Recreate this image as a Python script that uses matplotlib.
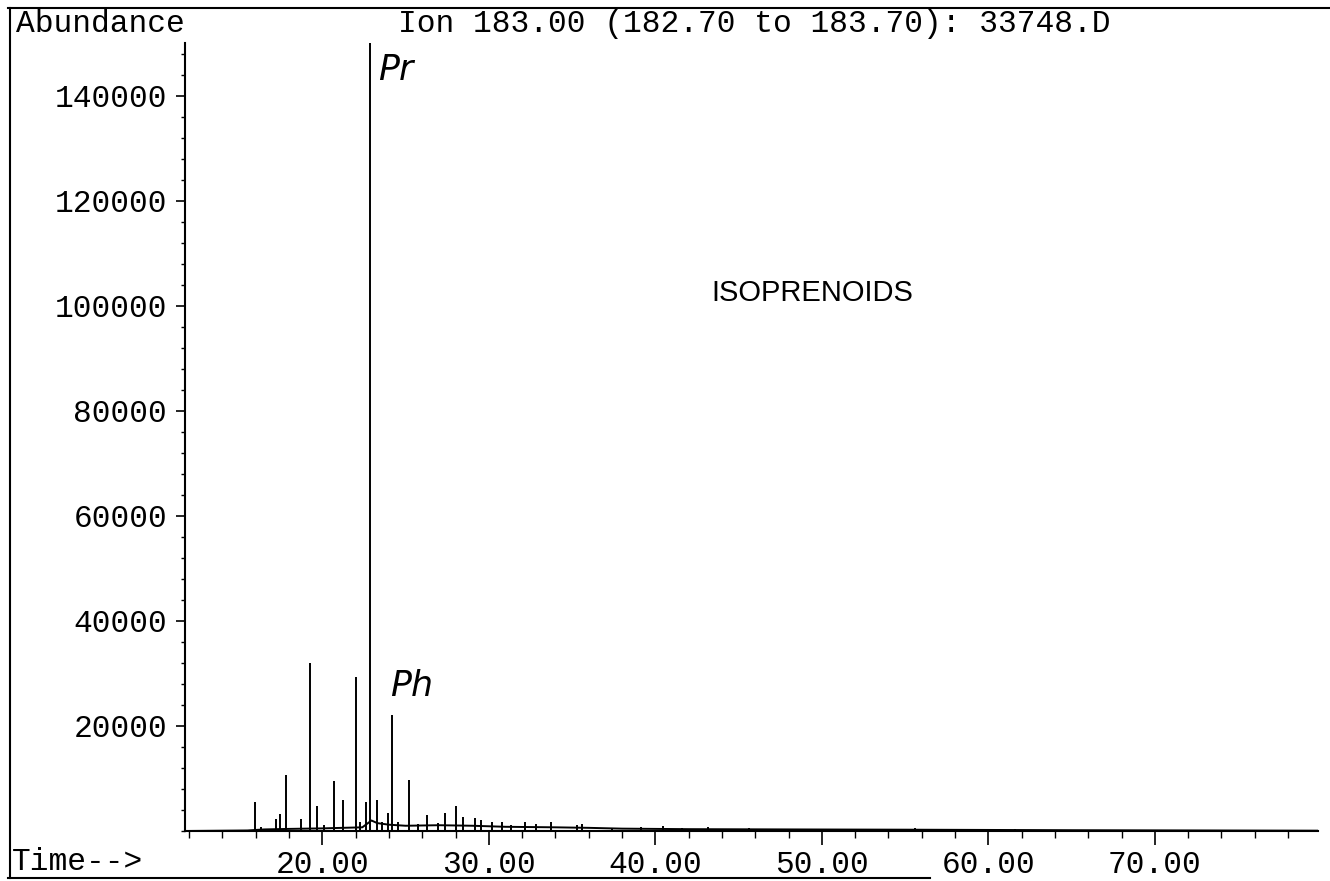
import numpy as np
import matplotlib.pyplot as plt
from matplotlib.lines import Line2D
from matplotlib.ticker import MultipleLocator, FormatStrFormatter

# peak apex: retention time (min) and abundance
peak_t = [15.98, 16.30, 17.24, 17.47, 17.80, 18.69, 19.23, 19.70, 20.12, 20.70,
          21.21, 22.00, 22.26, 22.62, 22.87, 23.27, 23.60, 23.96, 24.18, 24.56,
          25.21, 25.75, 26.29, 26.94, 27.38, 28.01, 28.43, 29.17, 29.52, 30.20,
          30.81, 31.36, 32.17, 32.83, 33.74, 35.29, 35.62, 37.37, 39.13, 40.46,
          41.60, 43.15, 45.64, 52.86, 55.60, 61.60]
peak_h = [5600, 800, 2300, 3200, 10600, 2300, 32000, 4700, 1100, 9500,
          5900, 29400, 1800, 5600, 152000, 5900, 1800, 3400, 22000, 1800,
          9800, 1400, 3000, 1500, 3500, 4700, 2600, 2500, 2100, 1650,
          1650, 1150, 1700, 1250, 1750, 1150, 1300, 650, 800, 1000,
          500, 700, 650, 450, 550, 300]

# slow baseline drift under the peaks
base_t = [11.72, 15.5, 16.5, 18.0, 20.0, 22.4, 22.95, 23.3, 24.0, 25.0, 27.0,
          29.0, 31.0, 34.0, 36.0, 38.0, 42.0, 48.0, 55.0, 65.0, 79.8]
base_y = [0, 100, 300, 400, 500, 700, 2000, 1500, 1200, 1000, 1100,
          1000, 800, 700, 600, 450, 350, 300, 250, 150, 60]

x_ticks = [20, 30, 40, 50, 60, 70]
y_ticks = [20000, 40000, 60000, 80000, 100000, 120000, 140000]

title = "Ion 183.00 (182.70 to 183.70): 33748.D"

mono = "Liberation Mono"
fs = 22.5

fig = plt.figure(figsize=(13.3, 8.81), dpi=100)
ax = fig.add_axes([184.5/1330, 1 - 831/881, (1318 - 184.5)/1330, (831 - 43)/881])

ax.plot(base_t, base_y, color="black", lw=1.4)
ax.vlines(peak_t, 0, peak_h, color="black", lw=1.4)

ax.set_xlim(11.72, 79.8)
ax.set_ylim(0, 150000)

for s in ["top", "right"]:
    ax.spines[s].set_visible(False)
for s in ["left", "bottom"]:
    ax.spines[s].set_linewidth(1.5)

ax.set_xticks(x_ticks)
ax.xaxis.set_minor_locator(MultipleLocator(2))
ax.xaxis.set_major_formatter(FormatStrFormatter("%.2f"))
ax.set_yticks(y_ticks)
ax.yaxis.set_minor_locator(MultipleLocator(4000))

ax.tick_params(axis="x", which="major", length=10, width=1.2, pad=4)
ax.tick_params(axis="x", which="minor", length=5, width=1.0)
ax.tick_params(axis="y", which="major", length=6.5, width=1.2, pad=6)
ax.tick_params(axis="y", which="minor", length=3, width=1.0)
for lab in ax.get_xticklabels() + ax.get_yticklabels():
    lab.set_fontfamily(mono)
    lab.set_fontsize(fs)

fig.text(16/1330, 1 - 32/881, "Abundance", fontfamily=mono, fontsize=fs, va="baseline")
fig.text(398/1330, 1 - 32/881, title, fontfamily=mono, fontsize=fs, va="baseline")
fig.text(12/1330, 1 - 870/881, "Time-->", fontfamily=mono, fontsize=fs, va="baseline")
fig.text(711/1330, 1 - 293/881, "ISOPRENOIDS", fontfamily="Liberation Sans",
         fontsize=21, va="center")

# handwritten peak marks
fig.text(378/1330, 1 - 70/881, "Pr", fontsize=25, va="center", style="italic")
fig.text(390/1330, 1 - 686/881, "Ph", fontsize=25, va="center", style="italic")

# printout frame
fig.add_artist(Line2D([8/1330, 1.0], [1 - 8/881] * 2, color="black", lw=1.5))
fig.add_artist(Line2D([10/1330] * 2, [1 - 8/881, 1 - 878/881], color="black", lw=1.5))
fig.add_artist(Line2D([8/1330, 930/1330], [1 - 878/881] * 2, color="black", lw=1.5))

fig.savefig("out.png", dpi=100)
